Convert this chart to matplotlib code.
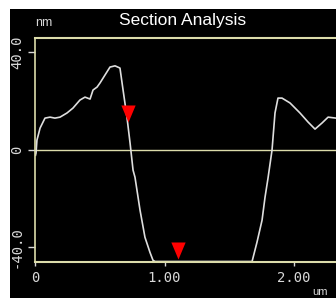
import matplotlib
matplotlib.use("Agg")
import matplotlib.pyplot as plt
from matplotlib.patches import Rectangle

# section profile (um, nm)
profile_x = [0.004, 0.008, 0.015, 0.023, 0.039, 0.077, 0.116, 0.154, 0.193, 0.247,
             0.293, 0.347, 0.386, 0.425, 0.448, 0.479, 0.502, 0.541, 0.579, 0.618,
             0.656, 0.680, 0.710, 0.734, 0.757, 0.772, 0.811, 0.849, 0.888, 0.911,
             0.927, 1.676, 1.714, 1.753, 1.776, 1.799, 1.830, 1.853, 1.876, 1.907,
             1.969, 2.046, 2.108, 2.162, 2.216, 2.263, 2.324]
profile_y = [-2.3, -1.4, 3.9, 5.5, 8.8, 12.9, 13.3, 12.9, 13.3, 15.0,
             17.0, 20.3, 21.5, 20.7, 24.4, 25.6, 27.3, 30.6, 33.8, 34.3,
             33.4, 24.4, 13.3, 2.7, -8.4, -11.3, -24.8, -35.9, -42.1, -45.3,
             -45.8, -45.8, -37.9, -28.9, -19.5, -11.7, -0.2, 15.0, 21.1, 21.1,
             19.1, 15.0, 11.3, 8.4, 10.9, 13.3, 12.9]

# cursor markers
cursor_x = [0.718, 1.104]
cursor_y = [11.3, -44.9]

x_ticks = [0, 1.0, 2.0]
x_ticklabels = ["0", "1.00", "2.00"]
y_ticks = [40, 0, -40]
y_ticklabels = ["40.0", "0", "-40.0"]

W, H = 336, 298
axis_col = "#dcdcaa"
text_col = "#d8d8d8"

fig = plt.figure(figsize=(W / 100, H / 100), dpi=100, facecolor="white")
# black panel behind everything
fig.patches.append(Rectangle((10 / W, 0), 1, 1 - 9 / H, transform=fig.transFigure,
                             facecolor="black", edgecolor="none", zorder=-10))

left, right = 35, 336
top, bottom = 38, 261.5
ax = fig.add_axes([left / W, 1 - bottom / H, (right - left) / W, (bottom - top) / H])
ax.set_facecolor("black")

ax.set_xlim(0, 2.324)
ax.set_ylim(-45.8, 45.7)

ax.axhline(0, color=axis_col, lw=1.0, zorder=1)
ax.plot(profile_x, profile_y, color="#dedede", lw=1.2, zorder=2)

tri = [(0, 0), (-0.42, 1), (0.42, 1)]
ax.plot(cursor_x, cursor_y, ls="none", marker=tri, markersize=24.5,
        color="#ff0000", markeredgewidth=0, zorder=3, clip_on=False)

for side in ["left", "bottom", "top"]:
    ax.spines[side].set_color(axis_col)
ax.spines["left"].set_linewidth(1.2)
ax.spines["bottom"].set_linewidth(1.5)
ax.spines["top"].set_linewidth(1.5)
ax.spines["right"].set_visible(False)

ax.set_xticks(x_ticks)
ax.set_xticklabels(x_ticklabels, family="DejaVu Sans Mono", fontsize=10, color=text_col)
ax.set_yticks(y_ticks)
ax.set_yticklabels(y_ticklabels, family="DejaVu Sans Mono", fontsize=10, color=text_col,
                   rotation=90, va="center")
ax.tick_params(axis="x", colors=text_col, length=3, width=1, pad=4, labelcolor=text_col)
ax.tick_params(axis="y", colors=text_col, length=5, width=1, pad=3, labelcolor=text_col)

fig.text(182.5 / W, 1 - 21 / H, "Section Analysis", ha="center", va="center",
         color="white", fontsize=12.5, family="Liberation Sans")
fig.text(44 / W, 1 - 23 / H, "nm", ha="center", va="center", color=text_col,
         fontsize=9, family="Liberation Sans")
fig.text(320 / W, 1 - 297 / H, "um", ha="center", va="bottom", color=text_col,
         fontsize=8, family="Liberation Sans")

fig.savefig("out.png", dpi=100, facecolor="white")
